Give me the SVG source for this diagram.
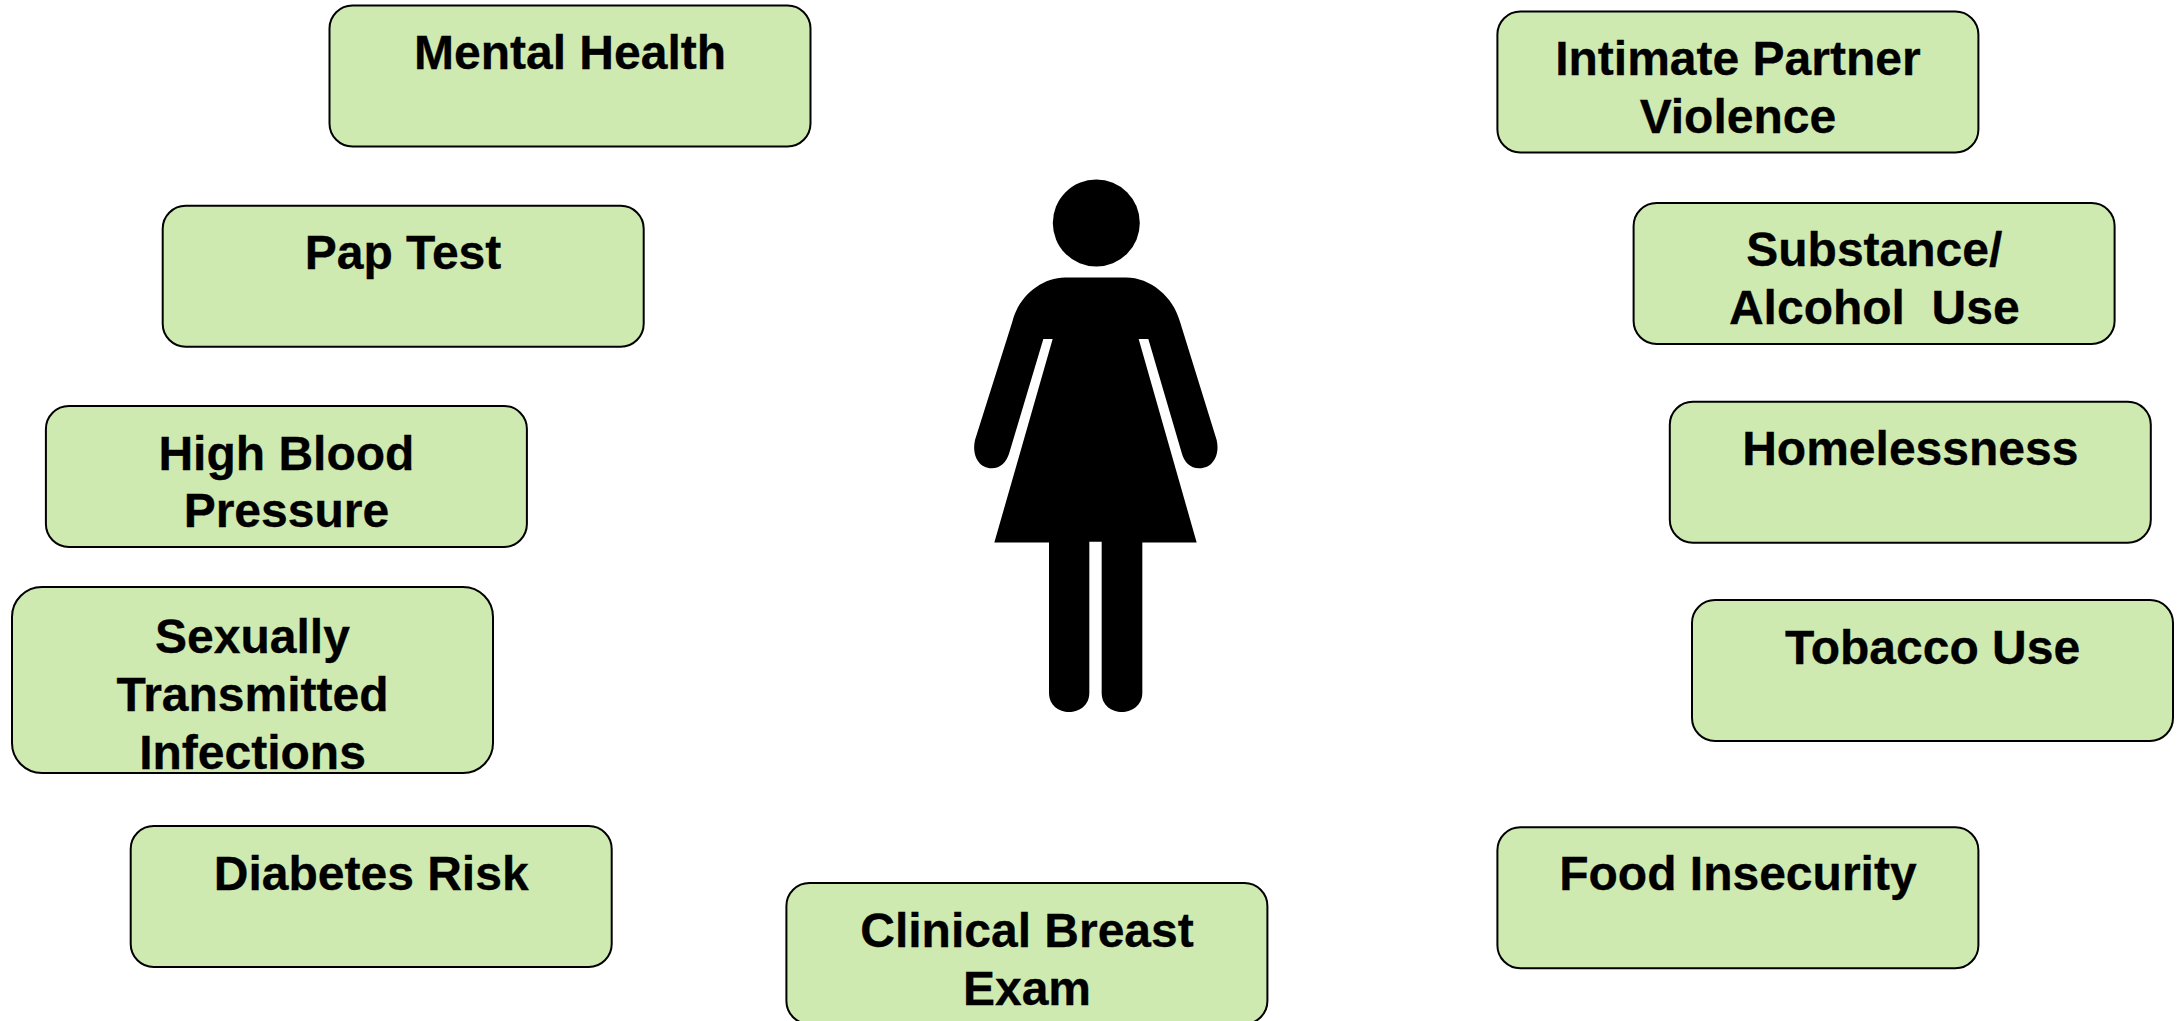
<svg xmlns="http://www.w3.org/2000/svg" width="2180" height="1021" viewBox="0 0 2180 1021">
<style>
rect{fill:#cfeab0;stroke:#000;stroke-width:2}
text{font-family:"Liberation Sans",Arial,sans-serif;font-weight:700;font-size:48px;fill:#000;stroke:#000;stroke-width:.3;text-anchor:middle;white-space:pre}
</style>
<rect x="0" y="0" width="2180" height="1021" style="fill:#fff;stroke:none"/>
<g id="connectors"/>
<g id="figure">
<ellipse cx="1096.3" cy="223" rx="43.5" ry="43.5" fill="#000"/>
<path transform="translate(940 160) scale(.33333 .3636)" fill="#000" d="M375 323H558C630 323 700 375 720 445L830 770C840 810 820 848 778 848C750 848 732 830 725 805L625 492H596L770 1052H607V1465C607 1500 575 1518 546 1518C515 1518 485 1500 485 1465V1050H448V1465C448 1500 418 1518 387 1518C357 1518 327 1500 327 1465V1052H163L338 492H310L208 805C200 830 182 848 155 848C115 848 95 810 105 770L217 445C235 375 305 323 375 323Z"/>
</g>
<g id="mental-health"><rect x="329.5" y="5.5" width="481" height="141" rx="23"/><text x="570" y="69">Mental Health</text></g>
<g id="pap-test"><rect x="162.7" y="205.8" width="481" height="141" rx="23"/><text x="403" y="269">Pap Test</text></g>
<g id="high-blood-pressure"><rect x="45.9" y="406" width="481" height="141" rx="23"/><text x="286.4" y="469.5">High Blood</text><text x="286.4" y="526.5">Pressure</text></g>
<g id="sti"><rect x="12" y="587" width="481" height="186" rx="30"/><text x="252.5" y="653">Sexually</text><text x="252.5" y="710.5">Transmitted</text><text x="252.5" y="768.5">Infections</text></g>
<g id="diabetes-risk"><rect x="130.7" y="826" width="481" height="141" rx="23"/><text x="371.2" y="889.5">Diabetes Risk</text></g>
<g id="clinical-breast-exam"><rect x="786.4" y="883" width="481" height="141" rx="23"/><text x="1027" y="946.5">Clinical Breast</text><text x="1027" y="1004.5">Exam</text></g>
<g id="intimate-partner-violence"><rect x="1497.4" y="11.5" width="481" height="141" rx="23"/><text x="1737.9" y="74.5">Intimate Partner</text><text x="1737.9" y="132.5">Violence</text></g>
<g id="substance-alcohol-use"><rect x="1633.6" y="203" width="481" height="141" rx="23"/><text x="1874.3" y="266">Substance/</text><text x="1874.3" y="324">Alcohol  Use</text></g>
<g id="homelessness"><rect x="1669.8" y="401.8" width="481" height="141" rx="23"/><text x="1910.3" y="465">Homelessness</text></g>
<g id="tobacco-use"><rect x="1692" y="600" width="481" height="141" rx="23"/><text x="1932.5" y="663.5">Tobacco Use</text></g>
<g id="food-insecurity"><rect x="1497.4" y="827.2" width="481" height="141" rx="23"/><text x="1737.9" y="890">Food Insecurity</text></g>
</svg>
